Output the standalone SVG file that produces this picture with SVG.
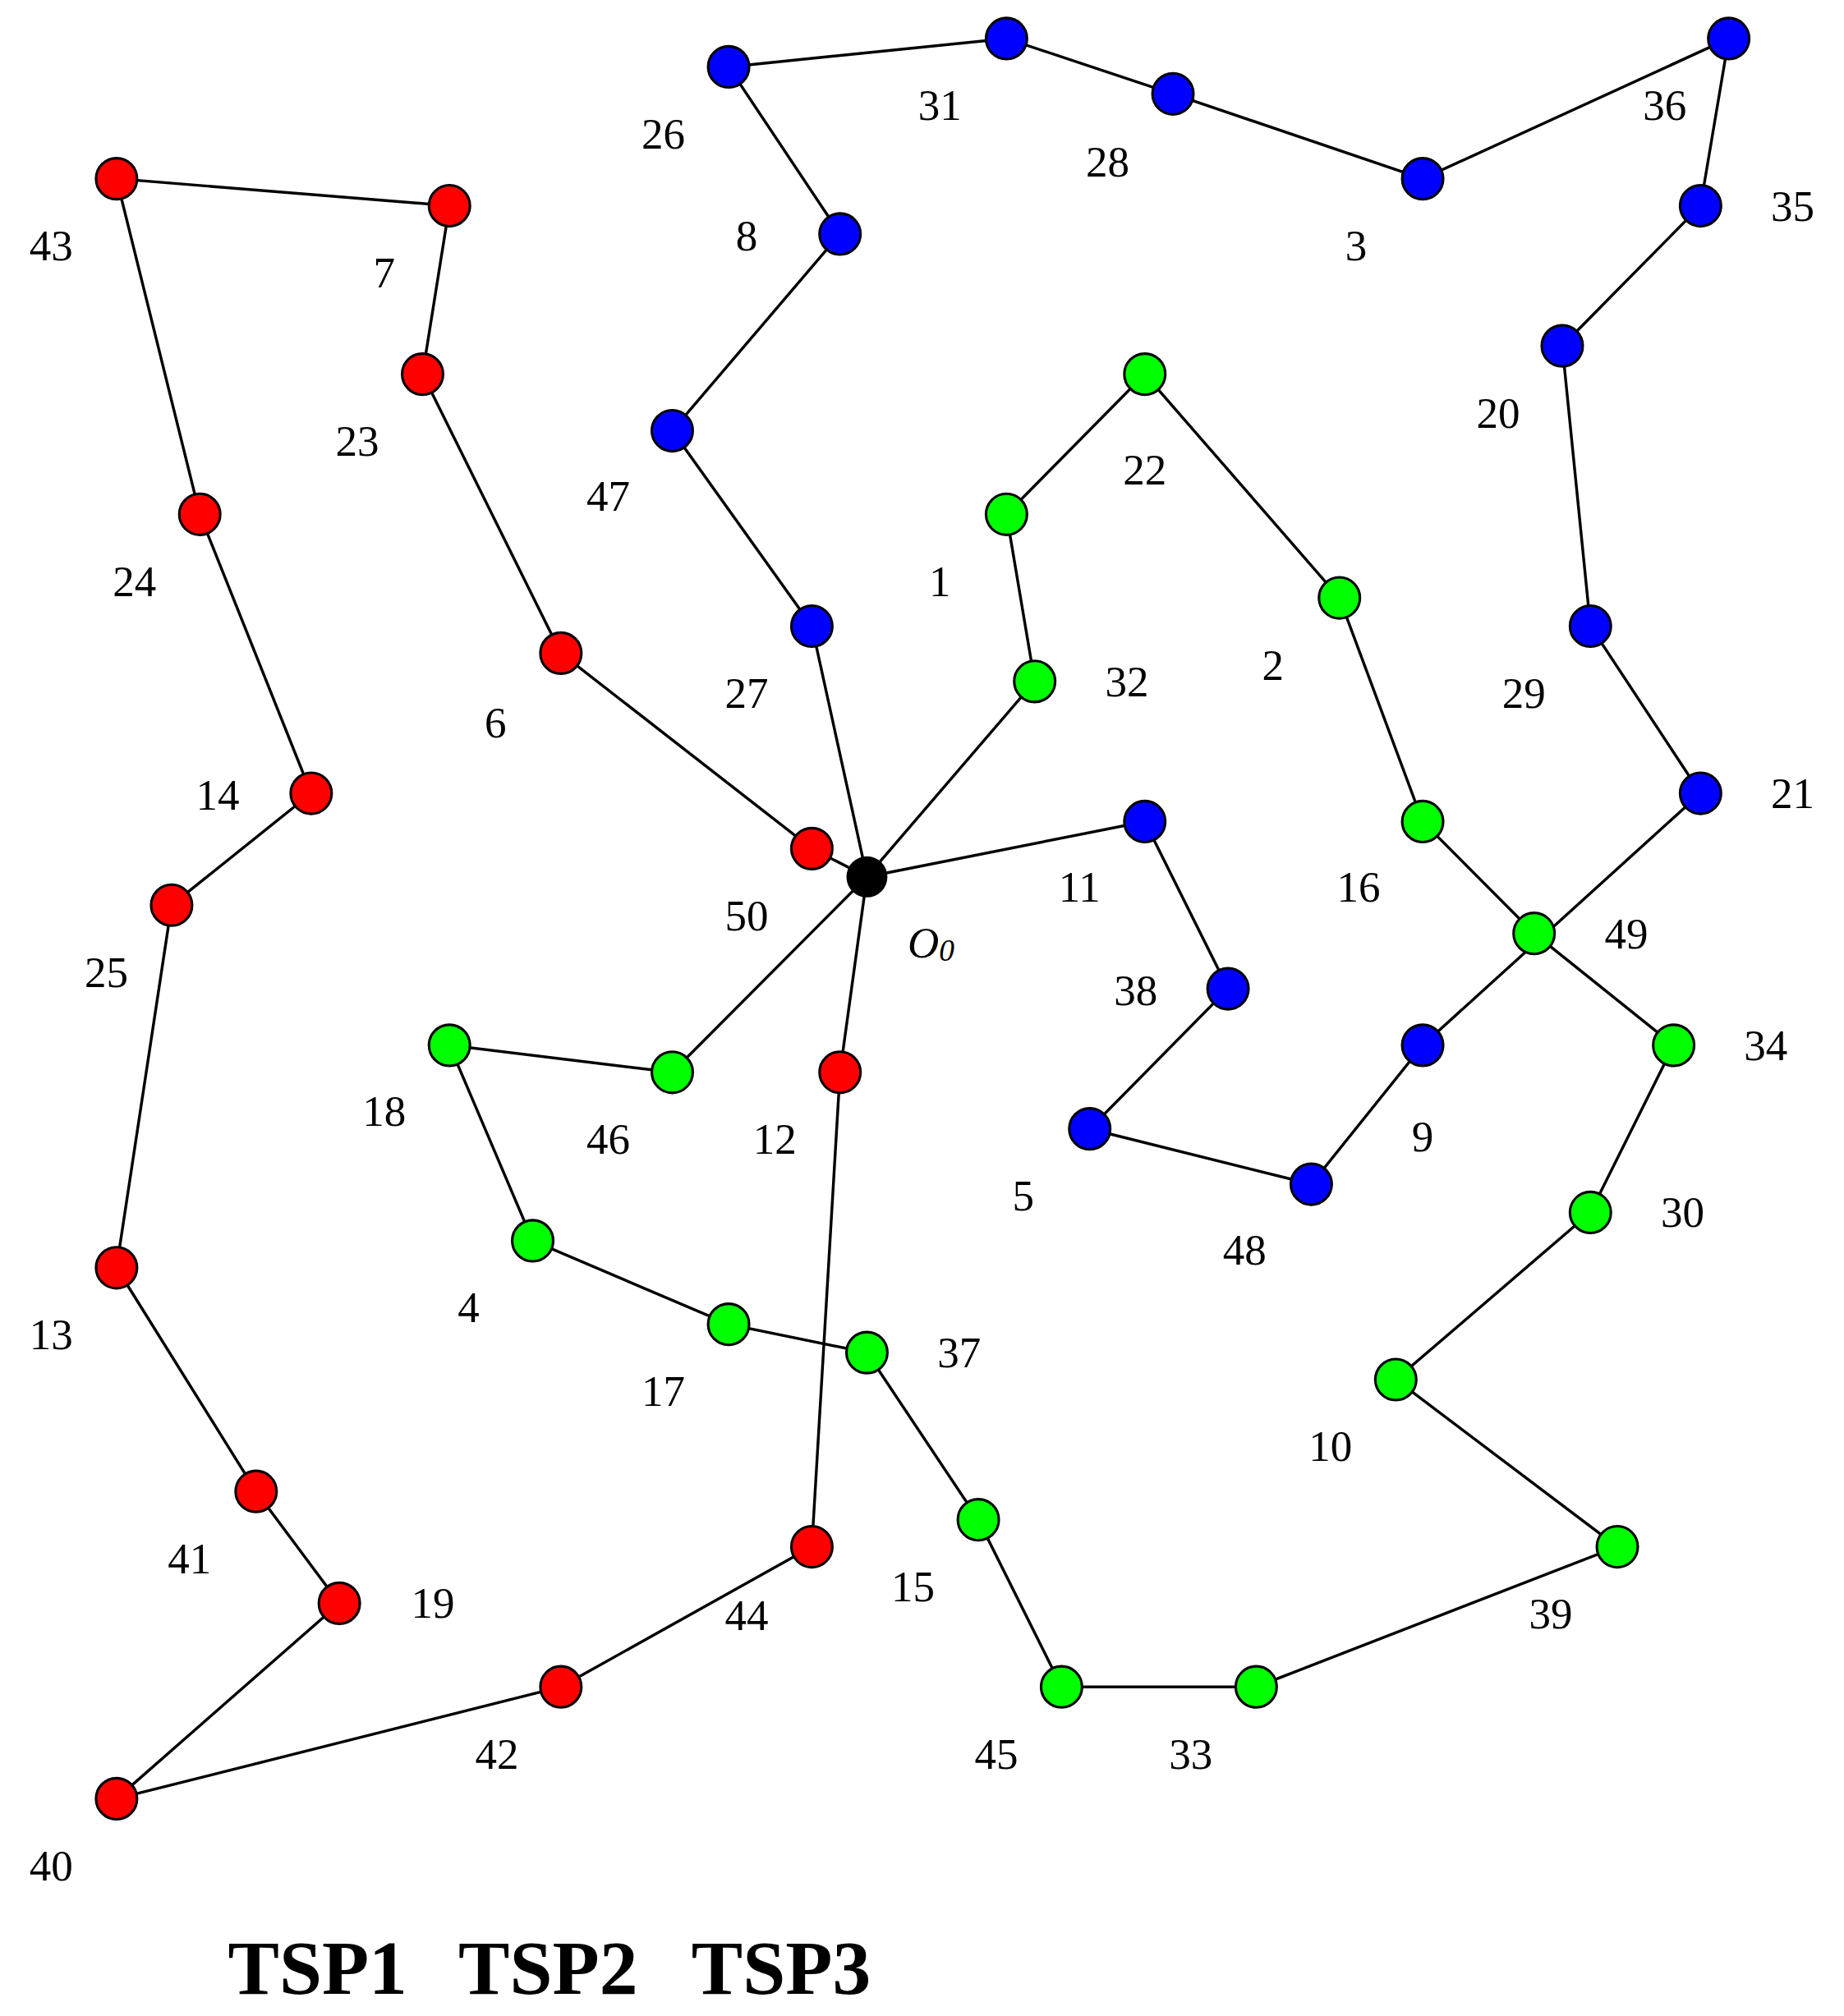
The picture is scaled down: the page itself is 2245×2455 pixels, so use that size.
<svg xmlns="http://www.w3.org/2000/svg" width="2245" height="2455" viewBox="0 0 2245 2455">
<style>
.e{stroke:#000;stroke-width:2.2;fill:none}
.b{fill:#0000ff;stroke:#000;stroke-width:2}
.r{fill:#ff0000;stroke:#000;stroke-width:2}
.g{fill:#00ff00;stroke:#000;stroke-width:2}
text{font-family:"Liberation Serif",serif;font-size:34px;text-anchor:middle;dominant-baseline:central;fill:#000}
.lg{font-size:60px;font-weight:bold;text-anchor:start}
</style>
<rect width="2245" height="2455" fill="#fff"/>
<g transform="scale(1.559 1.5657)">
<g id="connectors">
<polyline class="e" points="677,682 634,487 525,335 656,182 569,52 786,30 916,73 1111,139 1350,30 1328,160 1220,269 1242,487 1328,617 1111,813 1024,921 851,878 959,769 894,639 677,682"/>
<polyline class="e" points="677,682 634,660 438,508 330,291 351,160 91,139 156,400 243,617 134,704 91,986 200,1160 265,1247 91,1399 438,1312 634,1203 656,834 677,682"/>
<polyline class="e" points="677,682 808,530 786,400 894,291 1046,465 1111,639 1198,726 1307,813 1242,943 1090,1073 1263,1203 981,1312 829,1312 764,1182 677,1052 569,1030 416,965 351,813 525,834 677,682"/>
</g>
<g id="n0"><circle cx="677" cy="682" r="16" fill="#000"/><text x="727" y="733" font-style="italic">O<tspan font-size="24" dy="6">0</tspan></text></g>
<g id="n26"><circle class="b" cx="569" cy="52" r="16"/><text x="518" y="104">26</text></g>
<g id="n31"><circle class="b" cx="786" cy="30" r="16"/><text x="734" y="82">31</text></g>
<g id="n28"><circle class="b" cx="916" cy="73" r="16"/><text x="865" y="126">28</text></g>
<g id="n3"><circle class="b" cx="1111" cy="139" r="16"/><text x="1059" y="191">3</text></g>
<g id="n36"><circle class="b" cx="1350" cy="30" r="16"/><text x="1300" y="82">36</text></g>
<g id="n35"><circle class="b" cx="1328" cy="160" r="16"/><text x="1400" y="160">35</text></g>
<g id="n20"><circle class="b" cx="1220" cy="269" r="16"/><text x="1170" y="321">20</text></g>
<g id="n29"><circle class="b" cx="1242" cy="487" r="16"/><text x="1190" y="539">29</text></g>
<g id="n21"><circle class="b" cx="1328" cy="617" r="16"/><text x="1400" y="617">21</text></g>
<g id="n9"><circle class="b" cx="1111" cy="813" r="16"/><text x="1111" y="884">9</text></g>
<g id="n48"><circle class="b" cx="1024" cy="921" r="16"/><text x="972" y="972">48</text></g>
<g id="n5"><circle class="b" cx="851" cy="878" r="16"/><text x="799" y="930">5</text></g>
<g id="n38"><circle class="b" cx="959" cy="769" r="16"/><text x="887" y="770">38</text></g>
<g id="n11"><circle class="b" cx="894" cy="639" r="16"/><text x="843" y="690">11</text></g>
<g id="n8"><circle class="b" cx="656" cy="182" r="16"/><text x="583" y="183">8</text></g>
<g id="n47"><circle class="b" cx="525" cy="335" r="16"/><text x="475" y="386">47</text></g>
<g id="n27"><circle class="b" cx="634" cy="487" r="16"/><text x="583" y="539">27</text></g>
<g id="n43"><circle class="r" cx="91" cy="139" r="16"/><text x="40" y="191">43</text></g>
<g id="n7"><circle class="r" cx="351" cy="160" r="16"/><text x="300" y="212">7</text></g>
<g id="n23"><circle class="r" cx="330" cy="291" r="16"/><text x="279" y="343">23</text></g>
<g id="n24"><circle class="r" cx="156" cy="400" r="16"/><text x="105" y="452">24</text></g>
<g id="n6"><circle class="r" cx="438" cy="508" r="16"/><text x="387" y="562">6</text></g>
<g id="n50"><circle class="r" cx="634" cy="660" r="16"/><text x="583" y="712">50</text></g>
<g id="n14"><circle class="r" cx="243" cy="617" r="16"/><text x="170" y="618">14</text></g>
<g id="n25"><circle class="r" cx="134" cy="704" r="16"/><text x="83" y="756">25</text></g>
<g id="n13"><circle class="r" cx="91" cy="986" r="16"/><text x="40" y="1038">13</text></g>
<g id="n41"><circle class="r" cx="200" cy="1160" r="16"/><text x="148" y="1212">41</text></g>
<g id="n19"><circle class="r" cx="265" cy="1247" r="16"/><text x="338" y="1247">19</text></g>
<g id="n40"><circle class="r" cx="91" cy="1399" r="16"/><text x="40" y="1451">40</text></g>
<g id="n42"><circle class="r" cx="438" cy="1312" r="16"/><text x="388" y="1364">42</text></g>
<g id="n44"><circle class="r" cx="634" cy="1203" r="16"/><text x="583" y="1256">44</text></g>
<g id="n12"><circle class="r" cx="656" cy="834" r="16"/><text x="605" y="886">12</text></g>
<g id="n22"><circle class="g" cx="894" cy="291" r="16"/><text x="894" y="365">22</text></g>
<g id="n1"><circle class="g" cx="786" cy="400" r="16"/><text x="734" y="452">1</text></g>
<g id="n32"><circle class="g" cx="808" cy="530" r="16"/><text x="880" y="530">32</text></g>
<g id="n2"><circle class="g" cx="1046" cy="465" r="16"/><text x="994" y="517">2</text></g>
<g id="n16"><circle class="g" cx="1111" cy="639" r="16"/><text x="1061" y="690">16</text></g>
<g id="n49"><circle class="g" cx="1198" cy="726" r="16"/><text x="1270" y="726">49</text></g>
<g id="n34"><circle class="g" cx="1307" cy="813" r="16"/><text x="1379" y="813">34</text></g>
<g id="n30"><circle class="g" cx="1242" cy="943" r="16"/><text x="1314" y="943">30</text></g>
<g id="n10"><circle class="g" cx="1090" cy="1073" r="16"/><text x="1039" y="1125">10</text></g>
<g id="n39"><circle class="g" cx="1263" cy="1203" r="16"/><text x="1211" y="1255">39</text></g>
<g id="n33"><circle class="g" cx="981" cy="1312" r="16"/><text x="930" y="1364">33</text></g>
<g id="n45"><circle class="g" cx="829" cy="1312" r="16"/><text x="778" y="1364">45</text></g>
<g id="n15"><circle class="g" cx="764" cy="1182" r="16"/><text x="713" y="1234">15</text></g>
<g id="n37"><circle class="g" cx="677" cy="1052" r="16"/><text x="749" y="1052">37</text></g>
<g id="n17"><circle class="g" cx="569" cy="1030" r="16"/><text x="518" y="1082">17</text></g>
<g id="n4"><circle class="g" cx="416" cy="965" r="16"/><text x="366" y="1017">4</text></g>
<g id="n18"><circle class="g" cx="351" cy="813" r="16"/><text x="300" y="864">18</text></g>
<g id="n46"><circle class="g" cx="525" cy="834" r="16"/><text x="475" y="886">46</text></g>
<g id="legend">
<text class="lg" x="178" y="1530" fill="#0000ff">TSP1</text>
<text class="lg" x="358" y="1530" fill="#ff0000">TSP2</text>
<text class="lg" x="540" y="1530" fill="#00ff00">TSP3</text>
</g>
</g>
</svg>
